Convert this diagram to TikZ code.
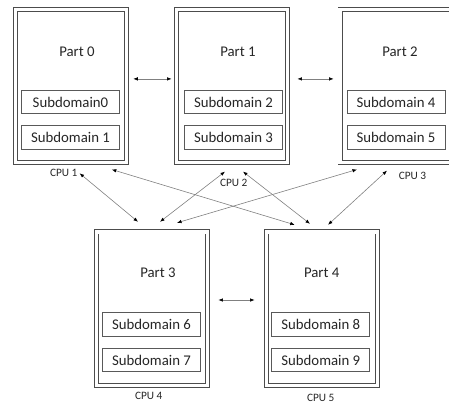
\documentclass[tikz,border=0pt]{standalone}
\usepackage{fontspec}
\setmainfont{Carlito}
\usetikzlibrary{arrows.meta}

\tikzset{
  partbox/.style={draw=black!70, double=white, double distance=3.2pt, line width=0.9pt,
    minimum width=111pt, minimum height=153.5pt, inner sep=0pt},
  subbox/.style={draw=black!65, line width=0.8pt, minimum width=98pt, minimum height=23.5pt,
    inner sep=0pt, font=\fontsize{14.8}{17}\selectfont, text=black!85},
  partname/.style={font=\fontsize{14.8}{17}\selectfont, text=black!85, inner sep=0pt},
  cpuname/.style={font=\fontsize{11.3}{13}\selectfont, text=black!85, inner sep=0pt},
  link/.style={draw=black!50, line width=0.6pt, <->,
    >={Latex[length=4.5pt,width=3.5pt,color=black]}}
}

\begin{document}
\begin{tikzpicture}[x=1pt,y=-1pt]
\useasboundingbox (0,0) rectangle (449,405);
% parts
\node[partbox] (part0) at (71.3,85.9) {};
\node[partbox] (part1) at (232,85.9) {};
\node[partbox] (part2) at (395.5,85.9) {};
\node[partbox] (part3) at (152,308.7) {};
\node[partbox] (part4) at (321.7,308.7) {};
\node[partname] (name0) at (77,52) {Part 0};
\node[partname] (name1) at (238,52) {Part 1};
\node[partname] (name2) at (400,52) {Part 2};
\node[partname] (name3) at (158,273) {Part 3};
\node[partname] (name4) at (321.7,273) {Part 4};
% subdomains
\node[subbox] (sub0) at (70.5,102) {Subdomain0};
\node[subbox] (sub1) at (70.5,137.5) {Subdomain 1};
\node[subbox] (sub2) at (233.5,102) {Subdomain 2};
\node[subbox] (sub3) at (233.5,137.5) {Subdomain 3};
\node[subbox] (sub4) at (396,102) {Subdomain 4};
\node[subbox] (sub5) at (396,137.5) {Subdomain 5};
\node[subbox] (sub6) at (151.5,324.5) {Subdomain 6};
\node[subbox] (sub7) at (151.5,360) {Subdomain 7};
\node[subbox] (sub8) at (320.8,324.5) {Subdomain 8};
\node[subbox] (sub9) at (320.8,360) {Subdomain 9};
% cpus
\node[cpuname] (cpu1) at (63.7,173.3) {CPU 1};
\node[cpuname] (cpu2) at (233.7,183.3) {CPU 2};
\node[cpuname] (cpu3) at (412.5,176) {CPU 3};
\node[cpuname] (cpu4) at (148.7,396) {CPU 4};
\node[cpuname] (cpu5) at (320.7,398.3) {CPU 5};
% links
\draw[link] ([xshift=6pt,yshift=7pt]part0.east) -- ([xshift=-4.5pt,yshift=7pt]part1.west);
\draw[link] ([xshift=9.5pt,yshift=7pt]part1.east) -- ([xshift=-6pt,yshift=7pt]part2.west);
\draw[link] ([xshift=10.5pt,yshift=8.7pt]part3.east) -- ([xshift=-11.2pt,yshift=8.7pt]part4.west);
\draw[link] ([xshift=2pt]cpu1.east) -- ([xshift=-14pt,yshift=9.7pt]part3.north);
\draw[link] ([xshift=-15.5pt,yshift=-6.4pt]part0.south east) -- ([xshift=-27pt,yshift=6.7pt]part4.north);
\draw[link] ([xshift=-7pt,yshift=-8.5pt]part1.south) -- ([xshift=8pt,yshift=9.7pt]part3.north);
\draw[link] ([xshift=11pt,yshift=-8.5pt]part1.south) -- ([xshift=-11.7pt,yshift=7.7pt]part4.north);
\draw[link] ([xshift=-38.5pt,yshift=-6.4pt]part2.south) -- ([xshift=25pt,yshift=8.7pt]part3.north);
\draw[link] ([xshift=-8.5pt,yshift=-7.5pt]part2.south) -- ([xshift=6.3pt,yshift=6.7pt]part4.north);
\end{tikzpicture}
\end{document}
